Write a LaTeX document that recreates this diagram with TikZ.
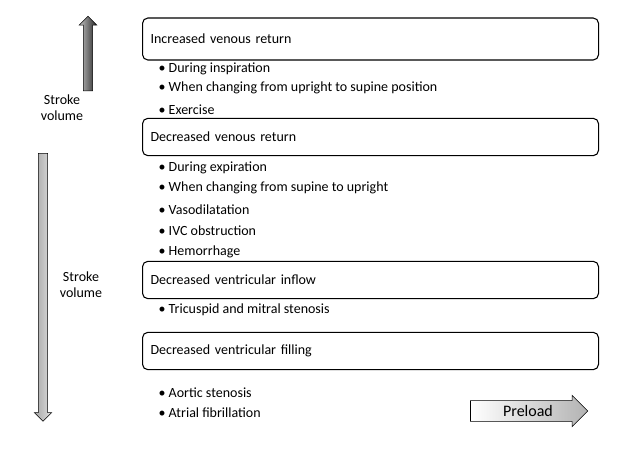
\documentclass[tikz,border=0pt]{standalone}
\usepackage{fontspec}
\setmainfont{Carlito}
\usetikzlibrary{shapes.arrows, positioning}
\tikzset{
    causebox/.style = {draw, thick, rounded corners=4pt, minimum width=342pt,
        minimum height=28pt, anchor=west, text width=330pt, align=left,
        inner sep=5pt},
    item/.style = {anchor=west, inner sep=1pt},
    bigarrow/.style = {single arrow, draw, thin, anchor=center,
        single arrow head extend=3pt},
    label/.style = {align=center, inner sep=1pt}
}
\begin{document}
\begin{tikzpicture}[x=0.75pt, y=-0.75pt, font=\fontsize{10.5}{12}\selectfont]
    \useasboundingbox (0,0) rectangle (629,461);
    % cause boxes
    \node (incvr) [causebox, minimum height=31.5pt] at (142,39) {Increased venous return};
    \node (decvr) [causebox] at (142,137) {Decreased venous return};
    \node (decinf) [causebox] at (142,280) {Decreased ventricular inflow};
    \node (decfill) [causebox] at (142,351) {Decreased ventricular filling};
    % items
    \foreach \y/\t in {69/During inspiration,
                       88/When changing from upright to supine position,
                       110/Exercise,
                       168/During expiration,
                       188/When changing from supine to upright,
                       210/Vasodilatation,
                       231/IVC obstruction,
                       252/Hemorrhage,
                       310/Tricuspid and mitral stenosis,
                       393/Aortic stenosis,
                       413/Atrial fibrillation}
        \node [item] at (157,\y) {\textbullet\ \t};
    % stroke volume arrows
    \node (uparrow) [bigarrow, rotate=90, minimum height=56pt, minimum width=12pt,
        shading=axis, top color=gray!50, bottom color=black!85, shading angle=90]
        at (88,56) {};
    \node (svup) [label] at (62,108) {Stroke\\volume};
    \node (downarrow) [bigarrow, rotate=-90, minimum height=201pt, minimum width=10pt,
        left color=gray!70, right color=gray!25]
        at (43,285) {};
    \node (svdown) [label] at (81,285) {Stroke\\volume};
    % preload arrow
    \node (preload) [bigarrow, minimum height=88pt, minimum width=20pt,
        single arrow head extend=4pt, left color=white, right color=gray!60,
        font=\fontsize{12}{14}\selectfont] at (524,411) {\hspace{6pt}Preload};
\end{tikzpicture}
\end{document}
